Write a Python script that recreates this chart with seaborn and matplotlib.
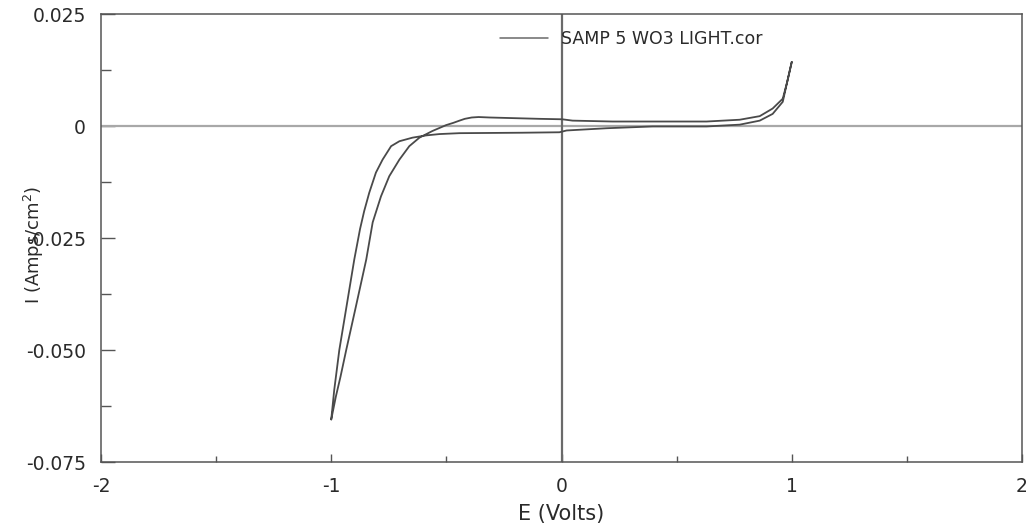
import numpy as np
import pandas as pd
import matplotlib
matplotlib.use("Agg")
import matplotlib.pyplot as plt
from matplotlib.ticker import AutoMinorLocator
import seaborn as sns

# ---- data ----
# anodic sweep, -1 V -> +1 V
e_forward = [-1.000, -0.980, -0.960, -0.935, -0.896, -0.848, -0.820, -0.784, -0.748, -0.704,
             -0.661, -0.617, -0.560, -0.501, -0.470, -0.443, -0.420, -0.390, -0.360, -0.313,
             -0.096, 0.003, 0.048, 0.222, 0.630, 0.774, 0.861, 0.917, 0.961, 0.980, 1.000]
i_forward = [-0.0655, -0.0604, -0.0560, -0.0500, -0.0410, -0.0298, -0.0215, -0.0157, -0.0112, -0.0075,
             -0.0045, -0.0026, -0.0011, 0.0002, 0.0007, 0.0012, 0.0016, 0.0019, 0.0020, 0.0019,
             0.0016, 0.0015, 0.0012, 0.0010, 0.0010, 0.0014, 0.0022, 0.0039, 0.0061, 0.0098, 0.0143]
# cathodic sweep, +1 V -> -1 V
e_reverse = [1.000, 0.980, 0.961, 0.917, 0.861, 0.774, 0.630, 0.396, 0.196, 0.022,
             -0.009, -0.170, -0.443, -0.530, -0.588, -0.647, -0.704, -0.740, -0.777, -0.806,
             -0.835, -0.857, -0.875, -0.900, -0.936, -0.965, -0.987, -1.000]
i_reverse = [0.0143, 0.0098, 0.0054, 0.0027, 0.0012, 0.0003, -0.0001, -0.0001, -0.0005, -0.0010,
             -0.0014, -0.0015, -0.0016, -0.0018, -0.0021, -0.0026, -0.0034, -0.0045, -0.0075, -0.0104,
             -0.0149, -0.0190, -0.0230, -0.0298, -0.0410, -0.0500, -0.0589, -0.0655]
series_name = "SAMP 5 WO3 LIGHT.cor"

x_ticks = [-2, -1, 0, 1, 2]
x_tick_labels = ["-2", "-1", "0", "1", "2"]
y_ticks = [0.025, 0.0, -0.025, -0.050, -0.075]
y_tick_labels = ["0.025", "0", "-0.025", "-0.050", "-0.075"]

df = pd.DataFrame({
    "E": e_forward + e_reverse,
    "I": i_forward + i_reverse,
    "series": series_name,
})

# ---- style ----
sns.set_style("ticks")
plt.rcParams["font.family"] = ["DejaVu Sans"]
plt.rcParams["axes.unicode_minus"] = False

fig = plt.figure(figsize=(10.26, 5.29), dpi=100)
ax = fig.add_axes([101 / 1026, 1 - 462 / 529, 921 / 1026, 448 / 529])

ax.axhline(0, color="#a8a8a8", lw=1.6, zorder=1)
ax.axvline(0, color="#6a6a6a", lw=1.6, zorder=1)

sns.lineplot(data=df, x="E", y="I", hue="series", palette=["#4a4a4a"],
             sort=False, estimator=None, lw=1.3, ax=ax, zorder=3)

ax.set_xlim(-2, 2)
ax.set_ylim(-0.075, 0.025)
ax.set_xticks(x_ticks)
ax.set_xticklabels(x_tick_labels)
ax.set_yticks(y_ticks)
ax.set_yticklabels(y_tick_labels)
ax.xaxis.set_minor_locator(AutoMinorLocator(2))
ax.yaxis.set_minor_locator(AutoMinorLocator(2))

for s in ax.spines.values():
    s.set_color("#555555")
    s.set_linewidth(1.1)

ax.tick_params(axis="both", which="both", direction="in", colors="#555555",
               labelcolor="#2a2a2a", labelsize=13.5, width=1.0)
ax.tick_params(axis="y", which="major", length=10, pad=11)
ax.tick_params(axis="y", which="minor", length=7)
ax.tick_params(axis="x", which="major", length=6, pad=11)
ax.tick_params(axis="x", which="minor", length=4.5)

ax.set_xlabel("E (Volts)", fontsize=15, color="#2a2a2a")
ax.set_ylabel("I (Amps/cm$^2$)", fontsize=13, color="#2a2a2a")
ax.xaxis.set_label_coords(0.5, -0.093)
ax.yaxis.set_label_coords(-0.06, 0.485)

leg = ax.legend(loc="center left", bbox_to_anchor=(0.433, 0.944), frameon=False,
                borderpad=0, borderaxespad=0, handlelength=2.8, handletextpad=0.75,
                fontsize=12.5)
for t in leg.get_texts():
    t.set_color("#2a2a2a")
for h in leg.get_lines():
    h.set_color("#6a6a6a")
    h.set_linewidth(1.1)

fig.savefig("out.png", dpi=100)
